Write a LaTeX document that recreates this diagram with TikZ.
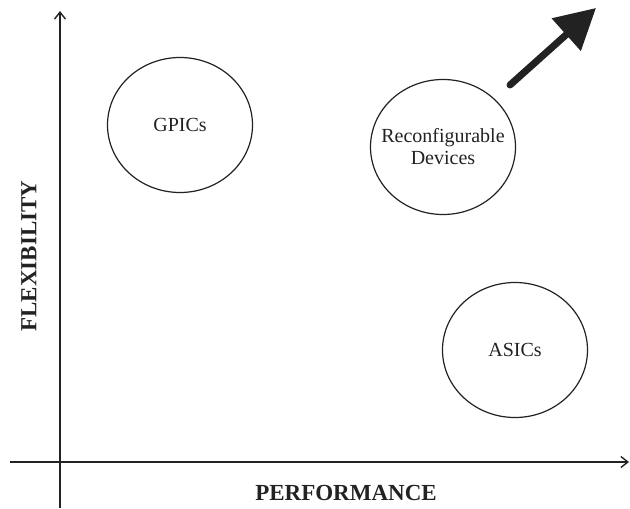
\documentclass[tikz,border=0pt]{standalone}
\usepackage{fontspec}
\setmainfont{Liberation Serif}
\usetikzlibrary{arrows.meta,shapes.geometric}
\definecolor{ink}{HTML}{222222}
\tikzset{
  axis/.style={draw=ink, line width=1.5pt, -{Straight Barb[length=7pt,width=11pt,line width=1.4pt]}},
  region/.style={ellipse, draw=ink, line width=1.2pt, minimum width=145pt, minimum height=135pt, inner sep=0pt},
  regiontext/.style={text=ink, font=\fontsize{20pt}{22pt}\selectfont, align=center, inner sep=0pt},
  axislabel/.style={text=ink, font=\bfseries\fontsize{23pt}{25pt}\selectfont, inner sep=0pt},
  trend/.style={draw=ink, line width=7pt, line cap=round, -{Triangle[length=40pt,width=42pt]}}
}
\begin{document}
\begin{tikzpicture}[x=1pt,y=-1pt]
  \useasboundingbox (0,0) rectangle (630,509);

  % axes
  \coordinate (ybot) at (60,508);
  \coordinate (ytop) at (60,11);
  \coordinate (xleft) at (10,462);
  \coordinate (xright) at (629,462);
  \draw[axis] (ybot) -- (ytop);
  \draw[axis] (xleft) -- (xright);

  % axis labels
  \node[axislabel, rotate=90] (flex) at (29,256) {FLEXIBILITY};
  \node[axislabel] (perf) at (346,493) {PERFORMANCE};

  % device classes
  \node[region] (gpic) at (180,125) {};
  \node[regiontext] (gpict) at (gpic) {GPICs};
  \node[region] (reconf) at (443,147) {};
  \node[regiontext] (reconft) at (reconf) {Reconfigurable\\Devices};
  \node[region] (asic) at (515,350) {};
  \node[regiontext] (asict) at (asic) {ASICs};

  % trend arrow
  \coordinate (tstart) at (510,85);
  \coordinate (tend) at (596,8);
  \draw[trend] (tstart) -- (tend);
\end{tikzpicture}
\end{document}
